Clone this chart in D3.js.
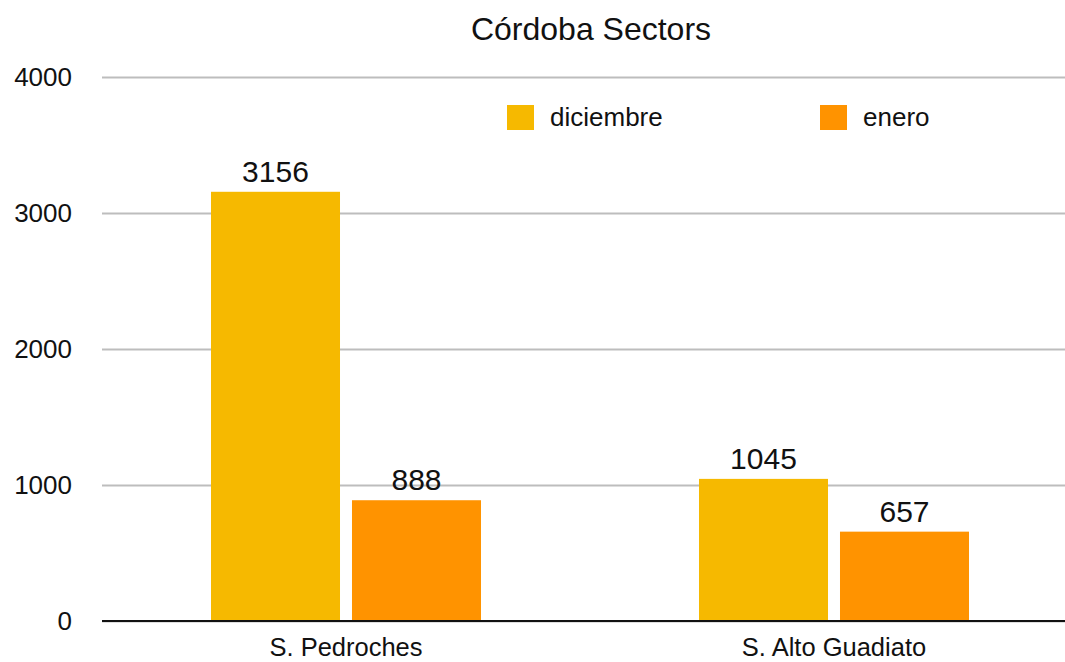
<!DOCTYPE html>
<html>
<head>
<meta charset="utf-8">
<script src="https://cdn.jsdelivr.net/npm/d3@7"></script>
<style>
  html, body { margin: 0; padding: 0; background: #fff; }
  svg { display: block; font-family: "Liberation Sans", Arial, Helvetica, sans-serif; }
</style>
</head>
<body>
<svg id="chart" width="1065" height="662"></svg>
<script>
// Chart data
const title = "Córdoba Sectors";
const categories = ["S. Pedroches", "S. Alto Guadiato"];
const seriesNames = ["diciembre", "enero"];
const diciembre = [3156, 1045];
const enero = [888, 657];
const yTicks = [0, 1000, 2000, 3000, 4000];
const colors = ["#F6B900", "#FF9300"];

const seriesValues = [diciembre, enero];
const rows = categories.map((c, i) => ({
  category: c,
  values: seriesNames.map((s, j) => ({ series: s, value: seriesValues[j][i] }))
}));

const svg = d3.select("#chart");
const plotLeft = 102, plotRight = 1078, plotTop = 77, plotBottom = 621;

const x0 = d3.scaleBand().domain(categories).range([plotLeft, plotRight])
  .paddingInner(0.4467).paddingOuter(0.4467 / 2);
const x1 = d3.scaleBand().domain(seriesNames).range([0, x0.bandwidth()])
  .paddingInner(0.085).paddingOuter(0);
const y = d3.scaleLinear().domain([0, 4000]).range([plotBottom, plotTop]);
const color = d3.scaleOrdinal().domain(seriesNames).range(colors);

// Gridlines and y tick labels
const yAxis = d3.axisLeft(y).tickValues(yTicks).tickSize(-(1065 - plotLeft)).tickPadding(30).tickFormat(d3.format("d"));
const gy = svg.append("g").attr("transform", `translate(${plotLeft},0)`).call(yAxis);
gy.select(".domain").remove();
gy.selectAll(".tick line").attr("stroke", "#bdbdbd").attr("stroke-width", 2);
gy.selectAll(".tick text").attr("font-size", 26).attr("fill", "#111").attr("x", -30);

// Bars
const groups = svg.append("g").selectAll("g").data(rows).join("g")
  .attr("transform", d => `translate(${x0(d.category)},0)`);
groups.selectAll("rect").data(d => d.values).join("rect")
  .attr("x", d => x1(d.series))
  .attr("width", x1.bandwidth())
  .attr("y", d => y(d.value))
  .attr("height", d => y(0) - y(d.value))
  .attr("fill", d => color(d.series));

// Value labels
groups.selectAll("text.val").data(d => d.values).join("text")
  .attr("class", "val")
  .attr("x", d => x1(d.series) + x1.bandwidth() / 2)
  .attr("y", d => y(d.value) - 10)
  .attr("text-anchor", "middle")
  .attr("font-size", 30)
  .attr("fill", "#111")
  .text(d => d.value);

// Baseline
svg.append("line").attr("x1", plotLeft).attr("x2", 1065)
  .attr("y1", y(0)).attr("y2", y(0)).attr("stroke", "#111").attr("stroke-width", 2);

// Category labels
const xAxis = d3.axisBottom(x0).tickSize(0).tickPadding(0);
const gx = svg.append("g").attr("transform", `translate(0,${plotBottom})`).call(xAxis);
gx.select(".domain").remove();
gx.selectAll(".tick text").attr("font-size", 25.5).attr("fill", "#111")
  .attr("dy", null).attr("y", 35);

// Title
svg.append("text").attr("x", 591).attr("y", 40).attr("text-anchor", "middle")
  .attr("font-size", 32).attr("fill", "#111").text(title);

// Legend
const legendX = [507, 820];
const legend = svg.append("g").selectAll("g").data(seriesNames).join("g")
  .attr("transform", (d, i) => `translate(${legendX[i]},105)`);
legend.append("rect").attr("width", 27).attr("height", 25).attr("fill", d => color(d));
legend.append("text").attr("x", 43).attr("y", 21).attr("font-size", 26).attr("fill", "#111").text(d => d);
</script>
</body>
</html>
